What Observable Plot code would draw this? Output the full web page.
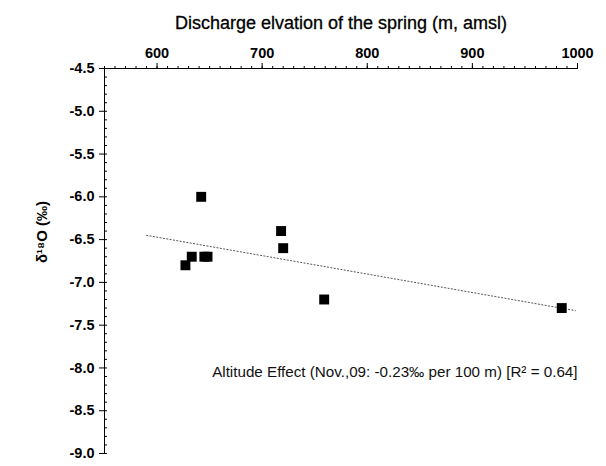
<!DOCTYPE html>
<html>
<head>
<meta charset="utf-8">
<script src="https://cdn.jsdelivr.net/npm/d3@7"></script>
<script src="https://cdn.jsdelivr.net/npm/@observablehq/plot@0.6"></script>
<style>
  html, body { margin: 0; padding: 0; background: #fff; }
  #chart svg { display: block; }
</style>
</head>
<body>
<div id="chart"></div>
<script>
// Spring data (discharge elevation, m amsl; δ18O ‰)
const elevation = [627, 633, 642, 645, 648, 718, 720, 759, 985];
const delta18O  = [-6.8, -6.7, -6.0, -6.7, -6.7, -6.4, -6.6, -7.2, -7.3];

// Regression (altitude effect) line endpoints
const trendElevation = [590, 998];
const trendDelta     = [-6.45, -7.33];

// Axis ticks
const xMajorTicks = [600, 700, 800, 900, 1000];
const xMinorTicks = d3.range(550, 1001, 10);
const yMajorTicks = [-4.5, -5.0, -5.5, -6.0, -6.5, -7.0, -7.5, -8.0, -8.5, -9.0];
const yMinorTicks = d3.range(-90, -44, 1).map(v => v / 10);

const titleText = "Discharge elvation of the spring (m, amsl)";
const yLabelText = "δ¹⁸O (‰)";
const noteText = "Altitude Effect (Nov.,09: -0.23‰ per 100 m) [R² = 0.64]";
const notePos = {x: 1000, y: -8.05};

const points = elevation.map((e, i) => ({x: e, y: delta18O[i]}));
const trend = trendElevation.map((e, i) => ({x: e, y: trendDelta[i]}));

const font = "'Liberation Sans', Arial, Helvetica, sans-serif";

const chart = Plot.plot({
  width: 606,
  height: 466,
  marginLeft: 104,
  marginRight: 29,
  marginTop: 68,
  marginBottom: 13,
  style: {fontFamily: font, background: "#fff", color: "#000"},
  x: {domain: [550, 1000]},
  y: {domain: [-9.0, -4.5]},
  marks: [
    Plot.ruleY([-4.5], {stroke: "#000", strokeWidth: 1}),
    Plot.ruleX([550], {stroke: "#000", strokeWidth: 1}),
    Plot.axisX({anchor: "top", ticks: xMinorTicks, tickSize: 3, text: null, label: null, stroke: "#000"}),
    Plot.axisX({anchor: "top", ticks: xMajorTicks, tickSize: 6, tickPadding: 5, tickFormat: d => String(d),
      label: null, fontSize: 14.5, fontWeight: "bold", fill: "#000", stroke: "#000"}),
    Plot.axisY({anchor: "left", ticks: yMinorTicks, tickSize: 3, dx: 3, text: null, label: null, stroke: "#000"}),
    Plot.axisY({anchor: "left", ticks: yMajorTicks, tickSize: 5, tickPadding: 5, tickFormat: d => d.toFixed(1),
      label: null, fontSize: 14.5, fontWeight: "bold", fill: "#000", stroke: "#000"}),
    Plot.line(trend, {x: "x", y: "y", stroke: "#555", strokeWidth: 1, strokeDasharray: "1.2,2.2"}),
    Plot.dot(points, {x: "x", y: "y", symbol: "square", r: 5.6, fill: "#000", stroke: "none"}),
    Plot.text([noteText], {x: notePos.x, y: notePos.y, text: d => d, textAnchor: "end",
      fontSize: 15.2, fill: "#111"}),
    Plot.text([titleText], {frameAnchor: "top", dy: -52, text: d => d, fontSize: 18, fill: "#000",
      stroke: "#000", strokeWidth: 0.3}),
    Plot.text([yLabelText], {frameAnchor: "left", dx: -62, dy: 2, rotate: -90, text: d => d,
      fontSize: 15, fontWeight: "bold", fill: "#000"})
  ]
});
document.getElementById("chart").appendChild(chart);
</script>
</body>
</html>
